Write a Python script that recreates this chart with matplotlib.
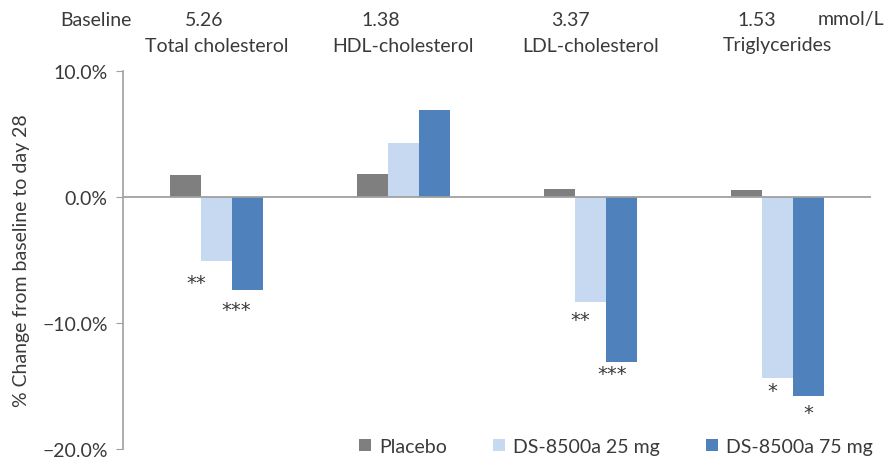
import matplotlib
matplotlib.use("Agg")
import matplotlib.pyplot as plt
import numpy as np

categories = ["Total cholesterol", "HDL-cholesterol", "LDL-cholesterol", "Triglycerides"]
baseline = ["5.26", "1.38", "3.37", "1.53"]
series_names = ["Placebo", "DS-8500a 25 mg", "DS-8500a 75 mg"]
placebo = [1.75, 1.8, 0.6, 0.55]
ds25 = [-5.05, 4.3, -8.35, -14.4]
ds75 = [-7.4, 6.9, -13.1, -15.8]
stars25 = ["**", "", "**", "*"]
stars75 = ["***", "", "***", "*"]
colors = ["#7f7f7f", "#c6d9f0", "#4f81bd"]
yticks = [-20, -10, 0, 10]

# star label offsets (pixels) relative to bar bottom centre
off25 = [(-20, -22), (0, 0), (-10, -17), (-5, -12)]
off75 = [(-11, -19), (0, 0), (-9, -11), (0, -16)]

FONT = ['Lato', 'DejaVu Sans']
plt.rcParams['font.family'] = FONT
TC = '#3a3a3a'
FS = 14
fig = plt.figure(figsize=(8.95, 4.64), dpi=100)
ax = fig.add_axes([123/895, 1-450/464, (871-123)/895, (450-72)/464])

x = np.arange(len(categories))
w = 0.5/3
allvals = [placebo, ds25, ds75]
for i, (vals, c, n) in enumerate(zip(allvals, colors, series_names)):
    ax.bar(x + (i-1)*w, vals, width=w, color=c, label=n, zorder=2)

for xi, (s, v, o) in enumerate(zip(stars25, ds25, off25)):
    if s:
        ax.annotate(s, (xi, v), xytext=o, textcoords='offset pixels',
                    ha='center', va='center', fontsize=FS, color=TC,
                    family='DejaVu Sans')
for xi, (s, v, o) in enumerate(zip(stars75, ds75, off75)):
    if s:
        ax.annotate(s, (xi + w, v), xytext=o, textcoords='offset pixels',
                    ha='center', va='center', fontsize=FS, color=TC,
                    family='DejaVu Sans')

ax.axhline(0, color='#a0a0a0', lw=1.3, zorder=3)
ax.set_xlim(-0.5, 3.5)
ax.set_ylim(-20, 10)
ax.set_yticks(yticks)
ax.set_yticklabels([f"{t:.1f}%".replace("-", "\u2212") for t in yticks], fontsize=FS, color=TC)
ax.set_xticks([])
for s in ['top', 'right', 'bottom']:
    ax.spines[s].set_visible(False)
ax.spines['left'].set_color('#a0a0a0')
ax.spines['left'].set_linewidth(1.2)
ax.tick_params(axis='y', direction='out', length=5, color='#a0a0a0', pad=6)
ax.set_ylabel("% Change from baseline to day 28", fontsize=FS, color=TC, labelpad=9)

# header texts
fig.text(60/895, 1-20/464, "Baseline", fontsize=FS, ha='left', va='center', color=TC)
base_x = [204, 381, 570, 757]
for bx, b in zip(base_x, baseline):
    fig.text(bx/895, 1-20/464, b, fontsize=FS, ha='center', va='center', color=TC)
fig.text(884/895, 1-20/464, "mmol/L", fontsize=FS, ha='right', va='center', color=TC)
for xi, cat in enumerate(categories):
    xd = ax.transData.transform((xi, 0))[0]
    fig.text(xd/895, 1-46/464, cat, fontsize=FS, ha='center', va='center', color=TC)

leg = fig.legend(loc='lower right', bbox_to_anchor=(890/895, -0.02), ncol=3, frameon=False,
                 fontsize=FS, handlelength=0.6, handleheight=0.6, handletextpad=0.4,
                 columnspacing=2.4, labelcolor=TC)

fig.savefig("out.png", dpi=100)
